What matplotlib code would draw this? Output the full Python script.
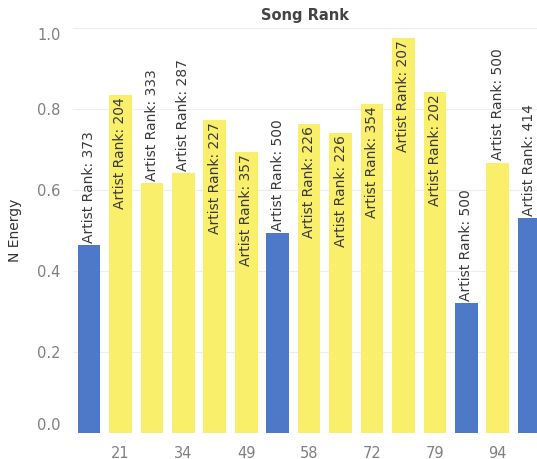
import matplotlib
matplotlib.use("Agg")
import matplotlib.pyplot as plt

# song rank ticks (Tableau only shows every other one)
tick_labels = ["", "21", "", "34", "", "49", "", "58", "", "72", "", "79", "", "94", ""]
n_energy = [0.464, 0.835, 0.617, 0.642, 0.773, 0.694, 0.493, 0.763, 0.741,
            0.812, 0.975, 0.842, 0.321, 0.667, 0.531]
artist_rank = [373, 204, 333, 287, 227, 357, 500, 226, 226, 354, 207, 202,
               500, 500, 414]
is_blue = [1, 0, 0, 0, 0, 0, 1, 0, 0, 0, 0, 0, 1, 0, 1]

BLUE = "#4e79c8"
YELLOW = "#f9ef6b"

fig = plt.figure(figsize=(5.37, 4.59), dpi=100)
ax = fig.add_axes([73 / 537, 1 - 433 / 459, 1 - 73 / 537, 405 / 459])

xs = list(range(len(n_energy)))
colors = [BLUE if b else YELLOW for b in is_blue]
ax.bar(xs, n_energy, width=0.72, color=colors, zorder=2)

label_len = 0.31  # label height in data units (approx)
for x, v, r in zip(xs, n_energy, artist_rank):
    txt = f"Artist Rank: {r}"
    if v + label_len <= 1.0:
        ax.text(x, v + 0.006, txt, rotation=90, ha="center", va="bottom",
                fontsize=10, color="#3a3a3a", zorder=3)
    else:
        ax.text(x, v - 0.006, txt, rotation=90, ha="center", va="top",
                fontsize=10, color="#3a3a3a", zorder=3)

ax.set_xlim(-0.51, 14.25)
ax.set_ylim(0, 1.0)
ax.set_xticks(xs)
ax.set_xticklabels(tick_labels)
ax.set_yticks([0.0, 0.2, 0.4, 0.6, 0.8, 1.0])
ax.set_yticklabels(["0.0", "0.2", "0.4", "0.6", "0.8", "1.0"])
ax.tick_params(length=0, labelsize=10.5, colors="#808080", pad=9)
ylabs = ax.get_yticklabels()
ylabs[0].set_verticalalignment("bottom")
ylabs[-1].set_verticalalignment("top")

ax.grid(axis="y", color="#eeeeee", linewidth=0.8, zorder=0)
for s in ("left", "right", "bottom"):
    ax.spines[s].set_visible(False)
ax.spines["top"].set_color("#eeeeee")
ax.axhline(0, color="#e6e6e6", linewidth=0.8, zorder=1)

ax.set_ylabel("N Energy", fontsize=10, color="#333333", labelpad=11)
ax.set_title("Song Rank", fontsize=10.5, color="#444444", fontweight="bold",
             pad=6)

fig.savefig("out.png", dpi=100)
